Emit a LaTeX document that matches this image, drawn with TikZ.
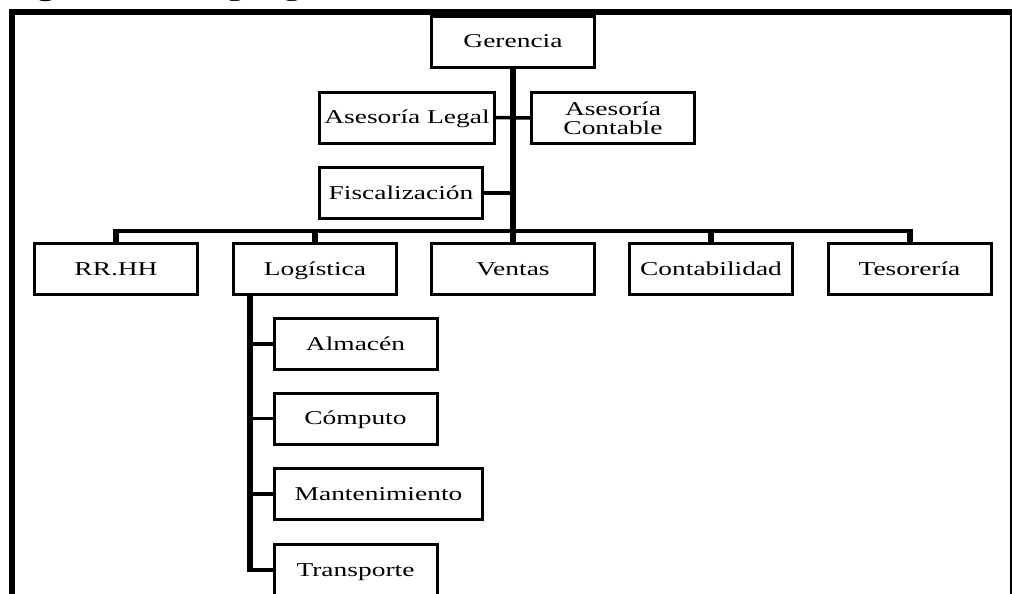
\documentclass[tikz,border=0pt]{standalone}
\usepackage{fontspec}
\setmainfont[FakeStretch=1.4]{Liberation Serif}
\begin{document}
\begin{tikzpicture}[x=1pt,y=-1pt,
  box/.style={draw=black,line width=3pt,fill=white,outer sep=0pt,inner sep=0pt,
     minimum width=163pt,minimum height=51pt,font=\fontsize{19.6}{19}\selectfont},
  oneline/.style={box,text height=16pt,text depth=4pt},
  spine/.style={line width=6pt},
  bus/.style={line width=4.5pt},
  branch/.style={line width=3.5pt},
  frame/.style={line width=6pt,line cap=rect}]
\useasboundingbox (0,0) rectangle (1012,594);
\clip (0,0) rectangle (1012,594);
% outer frame
\coordinate (fbl) at (11.5,600);
\coordinate (ftl) at (11.5,12);
\coordinate (ftr) at (1011,12);
\coordinate (fbr) at (1011,600);
\draw[frame] (fbl) -- (ftl) -- (ftr);
\draw[line width=2.5pt] (ftr) -- (fbr);
% caption, cut by the top edge
\node[anchor=base west,inner sep=0pt,font=\fontsize{23.6}{24}\selectfont] (cap) at (8,-3.5) {\textbf{Figura 1.}\hspace*{56pt}Organigrama};
% boxes
\node[oneline] (ger) at (513,42) {Gerencia};
\node[oneline,minimum width=175pt] (leg) at (407,117.5) {Asesoría Legal};
\node[box,align=center] (con) at (613,118) {Asesoría\\Contable};
\node[oneline] (fis) at (401,193) {Fiscalización};
\node[oneline] (rrh) at (116,269) {RR.HH};
\node[oneline] (log) at (315,269) {Logística};
\node[oneline] (ven) at (513,269) {Ventas};
\node[oneline] (cnt) at (711,269) {Contabilidad};
\node[oneline] (tes) at (909.5,269) {Tesorería};
\node[oneline] (alm) at (355.5,344) {Almacén};
\node[oneline] (com) at (355.5,418.5) {Cómputo};
\node[oneline,minimum width=208pt] (man) at (378.5,494) {Mantenimiento};
\node[oneline] (tra) at (355.5,570) {Transporte};
% connectors
\coordinate (busc) at (513,231);
\coordinate (lsp) at (249.5,296);
\draw[bus,shorten <=-3pt,shorten >=-3pt] (rrh.north |- busc) -- (tes.north |- busc);
\foreach \n in {rrh,log,cnt,tes}{\draw[spine,shorten >=-2.25pt] (\n.north) -- (\n.north |- busc);}
\draw[spine] (ger.south) -- (ven.north);
\draw[branch] (leg.east) -- (con.west);
\draw[branch] (fis.east) -- (fis.east -| ger.south);
\draw[spine,shorten >=-1.75pt] (lsp) -- (lsp |- tra.west);
\foreach \n in {alm,com,man,tra}{\draw[branch] (\n.west) -- (\n.west -| lsp);}
\end{tikzpicture}
\end{document}
